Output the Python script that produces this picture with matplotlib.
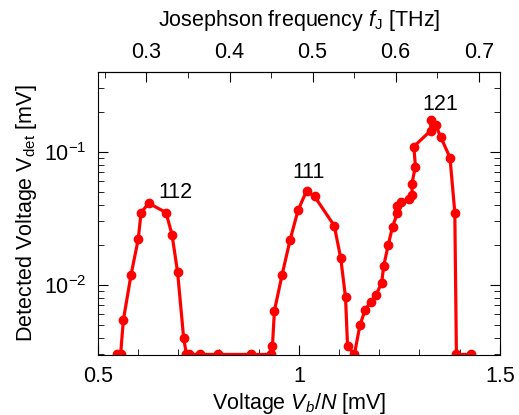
import numpy as np
import matplotlib.pyplot as plt
from matplotlib.ticker import MultipleLocator, FixedLocator, LogLocator, NullFormatter

plt.rcParams['font.family'] = ['Liberation Sans', 'DejaVu Sans']
plt.rcParams['mathtext.fontset'] = 'custom'
plt.rcParams['mathtext.rm'] = 'Liberation Sans'
plt.rcParams['mathtext.it'] = 'Liberation Sans:italic'

# bias voltage per junction [mV] and detected voltage [mV]
v_b = [0.548, 0.556, 0.563, 0.582, 0.600, 0.607, 0.626, 0.669, 0.684, 0.698, 0.713,
       0.720, 0.726, 0.754, 0.798, 0.881, 0.930,
       0.934, 0.939, 0.958, 0.978, 0.998, 1.019, 1.039, 1.088, 1.104, 1.116, 1.121,
       1.138, 1.152, 1.165, 1.179, 1.192, 1.206, 1.211, 1.222, 1.233, 1.245, 1.243,
       1.255, 1.273, 1.282, 1.281, 1.290, 1.286, 1.328, 1.328, 1.340, 1.353, 1.376,
       1.388, 1.392, 1.428]
v_det = [0.003, 0.003, 0.00546, 0.0119, 0.0221, 0.035, 0.0411, 0.035, 0.0239, 0.0124, 0.00398,
         0.003, 0.003, 0.003, 0.003, 0.003, 0.003,
         0.00347, 0.0064, 0.0119, 0.0218, 0.0366, 0.0509, 0.0462, 0.0278, 0.0159, 0.00804, 0.00347,
         0.003, 0.00501, 0.00649, 0.0075, 0.0084, 0.0104, 0.0139, 0.0198, 0.0274, 0.0346, 0.0394,
         0.0423, 0.044, 0.0477, 0.0574, 0.0776, 0.1096, 0.1445, 0.174, 0.160, 0.129, 0.0906,
         0.035, 0.003, 0.003]

peak_labels = ['112', '111', '121']
peak_pos = [(0.693, 0.045), (1.024, 0.064), (1.353, 0.207)]

fj_ticks = [0.3, 0.4, 0.5, 0.6, 0.7]
fj_per_mv = 0.4836  # THz per mV (2e/h)

fs = 15.5
fig = plt.figure(figsize=(5.19, 4.15), dpi=100)
ax = fig.add_axes([0.189, 0.145, 0.774, 0.682])

ax.plot(v_b, v_det, color='#ff0000', lw=2.3, marker='o', ms=6)

ax.set_yscale('log')
ax.set_xlim(0.5, 1.5)
ax.set_ylim(0.00298, 0.4)

for lab, (x, y) in zip(peak_labels, peak_pos):
    ax.text(x, y, lab, fontsize=fs, ha='center', va='baseline')

ax.xaxis.set_major_locator(MultipleLocator(0.5))
ax.xaxis.set_minor_locator(MultipleLocator(0.1))
ax.xaxis.set_major_formatter(plt.FuncFormatter(lambda v, p: '%g' % v))
ax.yaxis.set_major_locator(LogLocator(base=10))
ax.yaxis.set_minor_locator(LogLocator(base=10, subs=np.arange(2, 10)))
ax.yaxis.set_minor_formatter(NullFormatter())

ax.tick_params(which='both', direction='in', labelsize=fs, right=True)
ax.tick_params(which='major', length=7, pad=8)
ax.tick_params(which='minor', length=4)

sec = ax.secondary_xaxis('top', functions=(lambda v: v * fj_per_mv, lambda f: f / fj_per_mv))
sec.xaxis.set_major_locator(FixedLocator(fj_ticks))
sec.xaxis.set_minor_locator(MultipleLocator(0.05))
sec.tick_params(which='both', direction='in', labelsize=fs)
sec.tick_params(which='major', length=7, pad=6)
sec.tick_params(which='minor', length=4)
sec.set_xlabel(r'Josephson frequency $f_{\rm J}$ [THz]', fontsize=fs, labelpad=12)

ax.set_xlabel(r'Voltage $V_b/N$ [mV]', fontsize=fs, labelpad=3)
ax.set_ylabel(r'Detected Voltage V$_{\rm det}$ [mV]', fontsize=fs, labelpad=4)

fig.savefig('out.png', dpi=100)
